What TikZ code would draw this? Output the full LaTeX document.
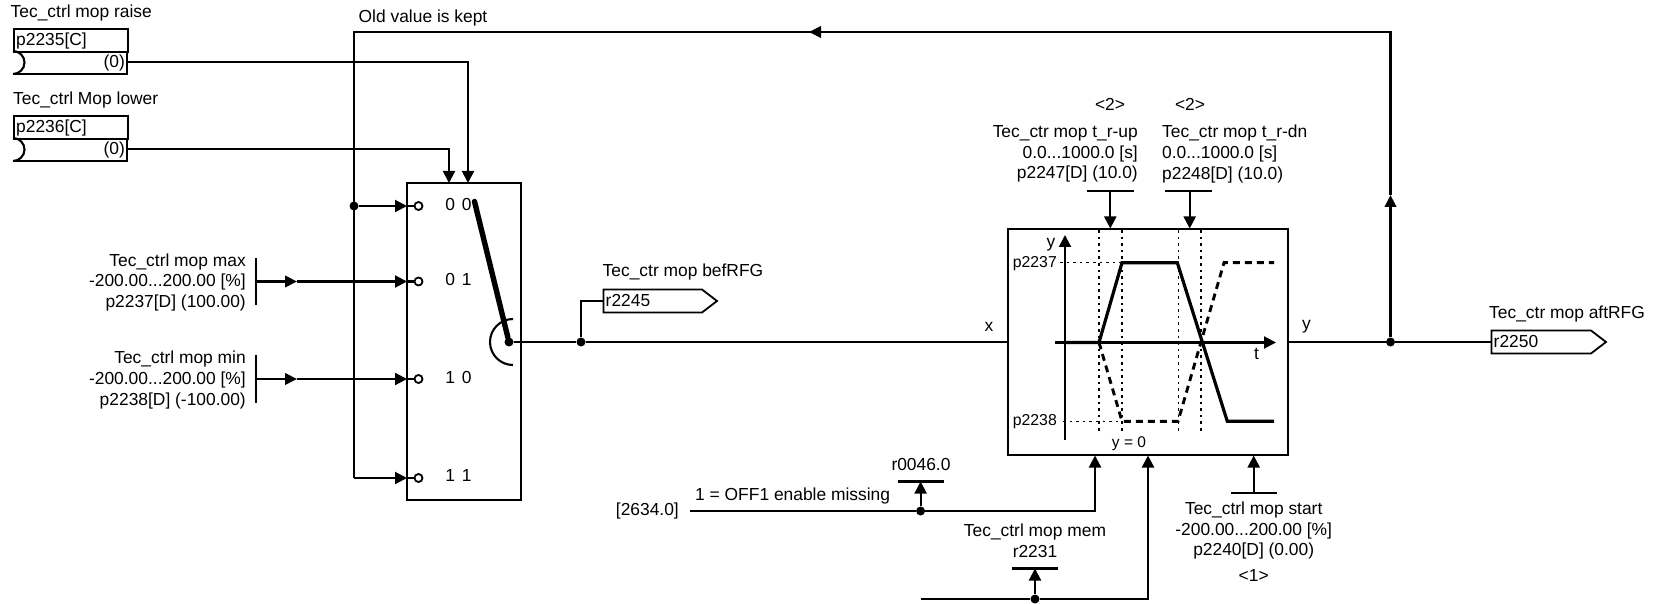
\documentclass[tikz,border=0pt]{standalone}
\usepackage{fontspec}
\setmainfont{Liberation Sans}
\usetikzlibrary{arrows.meta}
\tikzset{
  wire/.style={line width=2.1pt,line join=miter},
  arr/.style={wire,-{Triangle[length=12pt,width=12pt]}},
  midarr/.style={wire,-{Triangle[length=12pt,width=11.5pt]}},
  blockbox/.style={draw,line width=2.1pt,rectangle,inner sep=0pt},
  lbl/.style={inner sep=0pt,yshift=-1.5pt,font=\fontsize{17.4}{20.8}\selectfont},
  lblr/.style={lbl,anchor=east,align=right},
  lbll/.style={lbl,anchor=west,align=left},
  lblc/.style={lbl,anchor=center,align=center},
  dotm/.style={circle,fill=black,inner sep=0pt,minimum size=9pt},
  opencirc/.style={circle,draw,line width=1.8pt,fill=white,inner sep=0pt,minimum size=8pt},
  bar/.style={line width=2.1pt},
  graphdot/.style={line width=1.6pt,dash pattern=on 2.6pt off 4pt},
  ramp/.style={line width=3.2pt,line join=miter},
  rampd/.style={line width=2.9pt,dash pattern=on 7pt off 5pt},
  tagbox/.style={draw,line width=1.8pt,line join=miter}
}
\begin{document}
\begin{tikzpicture}[x=1pt,y=-1pt]
\useasboundingbox (0,0) rectangle (1663,604);
% switch block
\node[blockbox,minimum width=114pt,minimum height=317pt] (sw) at (464,341.5) {};
% ramp block
\node[blockbox,minimum width=280pt,minimum height=226.5pt] (rfg) at (1148,342) {};
% input binector boxes
\node[blockbox,anchor=north west,minimum width=114pt,minimum height=23pt] (bi1) at (13,28) {};
\node[lbll] (bi1t) at (16,39.5) {p2235[C]};
\draw[wire] (13,51) arc[start angle=90,end angle=-90,radius=11.5pt] coordinate (bi1a);
\coordinate (bi1o) at (127,62);
\draw[wire] (13,74) -- (127,74) -- (127,51);
\node[lblr] (bi1v) at (125,61.5) {(0)};
\node[blockbox,anchor=north west,minimum width=114pt,minimum height=23pt] (bi2) at (13,115) {};
\node[lbll] (bi2t) at (16,126.5) {p2236[C]};
\draw[wire] (13,138) arc[start angle=90,end angle=-90,radius=11.5pt];
\coordinate (bi2o) at (127,149);
\draw[wire] (13,161) -- (127,161) -- (127,138);
\node[lblr] (bi2v) at (125,148.5) {(0)};
\node[lbll] (n1) at (10.5,11.5) {Tec\_ctrl mop raise};
\node[lbll] (n2) at (13,98.5) {Tec\_ctrl Mop lower};
% wires to switch top
\coordinate (swa) at (468,183);
\coordinate (swb) at (449,183);
\draw[arr] (bi1o) -| (swa);
\draw[arr] (bi2o) -| (swb);
% feedback
\coordinate (tr) at (1390.5,32);
\coordinate (tl) at (354,32);
\coordinate (bl) at (354,478);
\node[dotm] (jl) at (354,206) {};
\node[dotm] (jr) at (1390.5,342) {};
\coordinate (ua) at (1390.5,195);
\coordinate (la) at (809,32);
\draw[midarr] (jr) -- (ua);
\draw[wire] (ua) -- (tr) -- (la);
\draw[midarr] (tr) -- (la);
\draw[wire] (la) -- (tl) -- (bl);
\node[lbll] (old) at (358.5,16.5) {Old value is kept};
% selector inputs
\node[opencirc] (c1) at (418.5,206) {};
\node[opencirc] (c2) at (418.5,281.5) {};
\node[opencirc] (c3) at (418.5,379) {};
\node[opencirc] (c4) at (418.5,478) {};
\coordinate (e1) at (407,206);
\coordinate (e2) at (407,281.5);
\coordinate (e3) at (407,379);
\coordinate (e4) at (407,478);
\draw[arr] (jl) -- (e1);
\draw[arr] (bl) -- (e4);
\draw[wire] (e1) -- (c1);\draw[wire] (e2) -- (c2);\draw[wire] (e3) -- (c3);\draw[wire] (e4) -- (c4);
\coordinate (bmax) at (256,281.5);
\coordinate (bmin) at (256,379);
\coordinate (mmax) at (297,281.5);
\coordinate (mmin) at (297,379);
\draw[bar] (256,258) -- (256,305);
\draw[bar] (256,355) -- (256,403);
\draw[midarr] (bmax) -- (mmax);
\draw[midarr] (bmin) -- (mmin);
\draw[arr] (mmax) -- (e2);
\draw[arr] (mmin) -- (e3);
\node[lblr] (pmax) at (246,281) {Tec\_ctrl mop max\\-200.00...200.00 [\%]\\p2237[D] (100.00)};
\node[lblr] (pmin) at (246,378.5) {Tec\_ctrl mop min\\-200.00...200.00 [\%]\\p2238[D] (-100.00)};
\node[lblc] (s00) at (458.5,203) {0\hspace{7pt}0};
\node[lblc] (s01) at (458.5,278) {0\hspace{7pt}1};
\node[lblc] (s10) at (458.5,376.5) {1\hspace{7pt}0};
\node[lblc] (s11) at (458.5,474.5) {1\hspace{7pt}1};
% selector
\node[dotm] (piv) at (509,342) {};
\coordinate (swt) at (474.5,201.5);
\draw[line width=5.4pt,line cap=round] (swt) -- (piv);
\draw[wire] (513,319) arc[start angle=90,end angle=270,radius=23pt];
\node[dotm] (j2) at (581,342) {};
\draw[wire] (piv) -- (j2) -- (rfg.west);
% r2245
\draw[tagbox] (603.5,289.5) -- (702,289.5) -- (717,301) -- (702,312.5) -- (603.5,312.5) -- cycle;
\coordinate (t1) at (603.5,301);
\node[lbll] (t1t) at (605.5,299.5) {r2245};
\node[lbll] (t1n) at (602.5,271) {Tec\_ctr mop befRFG};
\draw[wire] (j2) |- (t1);
% x,y
\node[lblc] (xl) at (989,325.5) {x};
\node[lblc] (yl) at (1306.5,325.5) {y};
% output
\coordinate (t2) at (1491.5,342);
\draw[wire] (rfg.east) -- (jr) -- (t2);
\draw[tagbox] (1491.5,330.5) -- (1591,330.5) -- (1606,342) -- (1591,353.5) -- (1491.5,353.5) -- cycle;
\node[lbll] (t2t) at (1493.5,340.5) {r2250};
\node[lbll] (t2n) at (1489,313) {Tec\_ctr mop aftRFG};
% graph
\draw[arr] (1065,440) -- (1065,235);
\draw[arr] (1055,342.5) -- (1276,342.5);
\foreach \xx in {1099,1122,1178.3,1201}{\draw[graphdot] (\xx,230) -- (\xx,432);}
\draw[graphdot] (1060,262.7) -- (1122,262.7);
\draw[graphdot] (1063,421.3) -- (1122,421.3);
\draw[rampd] (1099,342.5) -- (1122,421.3) -- (1178,421.3) -- (1224,262.7) -- (1274,262.7);
\draw[ramp] (1065,342.5) -- (1099,342.5) -- (1122,262.7) -- (1177.3,262.7) -- (1227.3,421.3) -- (1274,421.3);
\node[lblr,font=\fontsize{15.8}{18}\selectfont] (g1) at (1057,262) {p2237};
\node[lblr,font=\fontsize{15.8}{18}\selectfont] (g2) at (1057,420) {p2238};
\node[lblc] (gy) at (1051,243.5) {y};
\node[lblc] (gt) at (1256.5,352.5) {t};
\node[lblc,font=\fontsize{15.5}{18}\selectfont] (g0) at (1129,442.5) {y = 0};
% top params
\coordinate (pu) at (1110.3,191);
\coordinate (pd) at (1189.7,191);
\coordinate (ru) at (1110.3,228.5);
\coordinate (rd) at (1189.7,228.5);
\draw[bar] (1087,191) -- (1134,191);
\draw[bar] (1165,191) -- (1212,191);
\draw[arr] (pu) -- (ru);
\draw[arr] (pd) -- (rd);
\node[lblc] (a2) at (1110,103) {<2>};
\node[lblc] (b2) at (1190,103) {<2>};
\node[lblr] (pu1) at (1138,152.5) {Tec\_ctr mop t\_r-up\\0.0...1000.0 [s]\\p2247[D] (10.0)};
\node[lbll] (pd1) at (1162,152.5) {Tec\_ctr mop t\_r-dn\\0.0...1000.0 [s]\\p2248[D] (10.0)};
% bottom left
\node[lblr] (z1) at (679,509.5) {[2634.0]};
\coordinate (fs) at (689.5,511);
\node[dotm] (j3) at (920.6,511) {};
\coordinate (ra) at (1095,455.5);
\draw[wire] (fs) -- (j3);
\draw[arr] (j3) -| (ra);
\node[lbll] (z2) at (695,494) {1 = OFF1 enable missing};
\coordinate (b3) at (920.6,481.5);
\draw[bar] (898,481.5) -- (944,481.5);
\draw[arr] (j3) -- (b3);
\node[lblc] (z3) at (921,463) {r0046.0};
% bottom mid
\coordinate (fm) at (920.6,599);
\node[dotm] (j4) at (1035,599) {};
\coordinate (rb) at (1148,455.5);
\draw[wire] (fm) -- (j4);
\draw[arr] (j4) -| (rb);
\coordinate (b4) at (1035,568.5);
\draw[bar] (1012,568.5) -- (1058,568.5);
\draw[arr] (j4) -- (b4);
\node[lblc] (z4) at (1035,539.5) {Tec\_ctrl mop mem\\r2231};
% bottom right
\coordinate (b5) at (1253.7,493);
\coordinate (rc) at (1253.7,455.5);
\draw[bar] (1231,493) -- (1277,493);
\draw[arr] (b5) -- (rc);
\node[lblc] (z5) at (1253.7,529) {Tec\_ctrl mop start\\-200.00...200.00 [\%]\\p2240[D] (0.00)};
\node[lblc] (z6) at (1253.7,574) {<1>};
\end{tikzpicture}
\end{document}
